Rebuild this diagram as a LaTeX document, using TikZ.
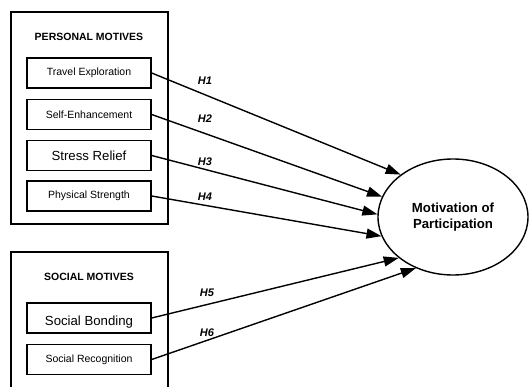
\documentclass[tikz,border=0pt]{standalone}
\usepackage{fontspec}
\setmainfont{Liberation Sans}
\usetikzlibrary{arrows.meta,shapes.geometric}
\begin{document}
\begin{tikzpicture}[x=1pt,y=-1pt,
  frame/.style={draw,line width=1.4pt},
  item/.style={draw,line width=1.4pt,minimum width=124pt,minimum height=30pt,inner sep=0pt,font=\fontsize{10.5pt}{12pt}\selectfont},
  bigitem/.style={item,font=\fontsize{13.2pt}{15pt}\selectfont},
  head/.style={font=\bfseries\fontsize{10.5pt}{12pt}\selectfont},
  hyp/.style={font=\bfseries\itshape\fontsize{11pt}{13pt}\selectfont},
  link/.style={line width=1.4pt,-{Triangle[length=15pt,width=10pt]}}]
\useasboundingbox (0,0) rectangle (530,387);
% personal motives frame
\node[frame,minimum width=157pt,minimum height=212pt,inner sep=0pt] (pm) at (89.5,118) {};
\node[head] (pmt) at (89,37) {PERSONAL MOTIVES};
\node[item] (te) at (89,73) {Travel Exploration};
\node[item] (se) at (89,114.5) {Self-Enhancement};
\node[bigitem] (sr) at (89,155.5) {Stress Relief};
\node[item] (ps) at (89,196) {Physical Strength};
% social motives frame (cut off at bottom)
\draw[line width=1.4pt] (11,390) -- (11,252) -- (168,252) -- (168,390);
\node[head] (smt) at (89,277) {SOCIAL MOTIVES};
\node[item] (sb) at (89,318) {};
\begin{scope}
\clip (27,304) rectangle (151,327.6);
\node[font=\fontsize{13.2pt}{15pt}\selectfont,anchor=base] (sbt) at (89,326) {Social Bonding};
\end{scope}
\node[item] (sc) at (89,359.5) {Social Recognition};
% outcome
\node[draw,ellipse,line width=1.4pt,minimum width=150pt,minimum height=116pt,inner sep=0pt,align=center,font=\bfseries\fontsize{13.2pt}{15.5pt}\selectfont] (mp) at (453,217) {Motivation of\\Participation};
% links
\draw[link] (te.east) -- (mp.141);
\draw[link] (se.east) -- (mp.164);
\draw[link] (sr.east) -- (mp.178);
\draw[link] (ps.east) -- (mp.195);
\draw[link] (sb.east) -- (mp.217);
\draw[link] (sc.east) -- (mp.234);
% labels
\node[hyp] (h1) at (205,81) {H1};
\node[hyp] (h2) at (205,119) {H2};
\node[hyp] (h3) at (205,162) {H3};
\node[hyp] (h4) at (205,197) {H4};
\node[hyp] (h5) at (207,293) {H5};
\node[hyp] (h6) at (207,333) {H6};
\end{tikzpicture}
\end{document}
